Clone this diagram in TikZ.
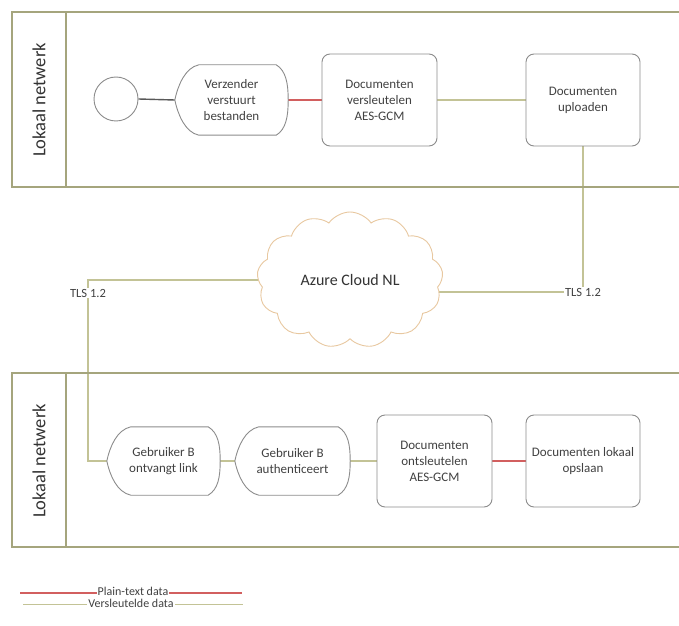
\documentclass[tikz,border=0pt]{standalone}
\usepackage{fontspec}
\setmainfont{Carlito}
\usetikzlibrary{shapes.symbols,calc}
\pgfdeclarelayer{background}
\pgfsetlayers{background,main}
\definecolor{laneborder}{RGB}{165,165,125}
\definecolor{olive}{RGB}{195,195,150}
\definecolor{redline}{RGB}{210,95,95}
\definecolor{boxgray}{RGB}{140,140,140}
\definecolor{txtgray}{RGB}{65,65,65}
\definecolor{cloudtan}{RGB}{232,200,160}
\tikzset{
  lane/.style={draw=laneborder, line width=1.3pt},
  lanelabel/.style={rotate=90, text=black!80, font=\fontsize{18.5}{22}\selectfont},
  procbox/.style={draw=boxgray, line width=0.9pt, rounded corners=8pt, fill=white, align=center, text=txtgray, font=\fontsize{13}{16}\selectfont, inner sep=2pt},
  dispbox/.style={draw=none, align=center, text=txtgray, font=\fontsize{13}{16}\selectfont, inner sep=2pt},
  displine/.style={draw=boxgray, line width=0.9pt, fill=white},
  startev/.style={circle, draw=boxgray, line width=0.9pt, fill=white, minimum size=44pt, inner sep=0pt},
  encline/.style={draw=olive, line width=1.1pt},
  plainline/.style={draw=redline, line width=1.2pt},
  flowline/.style={draw=black!65, line width=1.4pt},
  tlslabel/.style={fill=white, text=txtgray, font=\fontsize{12.5}{14}\selectfont, inner sep=1pt},
  legendlabel/.style={fill=white, text=txtgray, font=\fontsize{12}{13}\selectfont, inner xsep=1pt, inner ysep=0pt, text height=6.5pt, text depth=1pt},
}
\newcommand\dispshape[1]{%
  \path[displine] (#1.west)
    .. controls ($(#1.west)+(3,14)$) and ($(#1.north west)+(10,-3)$) .. ($(#1.north west)+(24,0)$)
    -- ($(#1.north east)+(-12,0)$)
    .. controls ($(#1.north east)+(-2,-6)$) and ($(#1.east)+(0,16)$) .. (#1.east)
    .. controls ($(#1.east)+(0,-16)$) and ($(#1.south east)+(-2,6)$) .. ($(#1.south east)+(-12,0)$)
    -- ($(#1.south west)+(24,0)$)
    .. controls ($(#1.south west)+(10,3)$) and ($(#1.west)+(3,-14)$) .. (#1.west) -- cycle;}
\begin{document}
\begin{tikzpicture}[x=1pt,y=1pt]
\useasboundingbox (0,0) rectangle (679,625);
\begin{pgfonlayer}{background}
\fill[white] (0,0) rectangle (679,625);
\end{pgfonlayer}
% lanes
\draw[lane] (679,613) -- (12,613) -- (12,438) -- (679,438);
\draw[lane] (66,613) -- (66,438);
\draw[lane] (679,252) -- (12,252) -- (12,78) -- (679,78);
\draw[lane] (66,252) -- (66,78);
\node[lanelabel] (lane1) at (39,525) {Lokaal netwerk};
\node[lanelabel] (lane2) at (39,164) {Lokaal netwerk};
% top lane
\node[startev] (start) at (116,526) {};
\node[dispbox, minimum width=113pt, minimum height=70pt] (send) at (231.5,525) {};
\dispshape{send}
\node[dispbox] at (send.center) {Verzender\\verstuurt\\bestanden};
\node[procbox, minimum width=115pt, minimum height=92pt] (enc) at (379.5,525) {Documenten\\versleutelen\\AES-GCM};
\node[procbox, minimum width=114pt, minimum height=92pt] (upl) at (583,525) {Documenten\\uploaden};
% cloud
\node[cloud, cloud puffs=13, cloud puff arc=110, draw=cloudtan, line width=0.9pt, fill=white, minimum width=186pt, minimum height=136pt, aspect=1.4, text=black!80, font=\fontsize{16}{19}\selectfont] (cloud) at (350,345) {Azure Cloud NL};
\node[tlslabel] (tlsr) at (583,333) {TLS 1.2};
\node[tlslabel] (tlsl) at (88,332) {TLS 1.2};
% bottom lane
\node[dispbox, minimum width=113pt, minimum height=68pt] (recv) at (163.5,164) {};
\dispshape{recv}
\node[dispbox] at (recv.center) {Gebruiker B\\ontvangt link};
\node[dispbox, minimum width=115pt, minimum height=68pt] (auth) at (292.5,164) {};
\dispshape{auth}
\node[dispbox] at (auth.center) {Gebruiker B\\authenticeert};
\node[procbox, minimum width=115pt, minimum height=92pt] (dec) at (434.5,164) {Documenten\\ontsleutelen\\AES-GCM};
\node[procbox, minimum width=114pt, minimum height=92pt] (store) at (583,164) {Documenten lokaal\\opslaan};
% legend
\node[legendlabel] (lgp) at (133,32) {Plain-text data};
\node[legendlabel] (lgv) at (131,20.5) {Versleutelde data};
\coordinate (lgp1) at (20,32);
\coordinate (lgp2) at (242,32);
\coordinate (lgv1) at (23,20.5);
\coordinate (lgv2) at (243,20.5);
\coordinate (lx) at (88,0);
% connectors
\begin{pgfonlayer}{background}
\draw[flowline] (start.east) -- (send.west);
\draw[plainline] (send.east) -- (enc.west);
\draw[encline] (enc.east) -- (upl.west);
\draw[encline] (upl.south) -- (tlsr.center) -- (tlsr -| cloud.center);
\draw[encline] (cloud.center) -- (cloud.center -| lx) -- (recv.west -| lx) -- (recv.west);
\draw[encline] (recv.east) -- (auth.west);
\draw[encline] (auth.east) -- (dec.west);
\draw[plainline] (dec.east) -- (store.west);
\draw[plainline] (lgp1) -- (lgp2);
\draw[encline] (lgv1) -- (lgv2);
\end{pgfonlayer}
\end{tikzpicture}
\end{document}
